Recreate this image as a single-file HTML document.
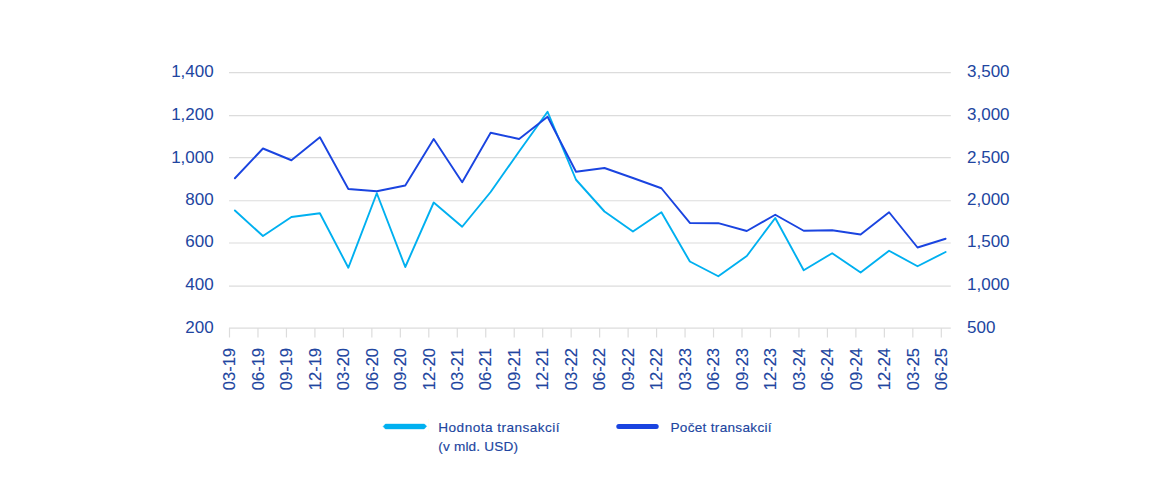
<!DOCTYPE html>
<html><head><meta charset="utf-8"><title>Chart</title>
<style>
html,body{margin:0;padding:0;background:#fff;}
body{width:1176px;height:484px;overflow:hidden;font-family:"Liberation Sans",sans-serif;}
svg{display:block}
text{font-family:"Liberation Sans",sans-serif;fill:#2145a0;}
.yl{font-size:17px}
.xl{font-size:16.5px;stroke:#2145a0;stroke-width:0.12px}
.lg{font-size:13.6px;stroke:#2145a0;stroke-width:0.15px}
</style></head><body>
<svg width="1176" height="484" viewBox="0 0 1176 484">
<rect width="1176" height="484" fill="#fff"/>
<g stroke="#dcdcdc" stroke-width="1.2" fill="none">
<line x1="229" y1="72.55" x2="950.8" y2="72.55"/>
<line x1="229" y1="115.55" x2="950.8" y2="115.55"/>
<line x1="229" y1="157.60" x2="950.8" y2="157.60"/>
<line x1="229" y1="200.75" x2="950.8" y2="200.75"/>
<line x1="229" y1="243.00" x2="950.8" y2="243.00"/>
<line x1="229" y1="286.05" x2="950.8" y2="286.05"/>
<line x1="229" y1="328.10" x2="950.8" y2="328.10"/>
<line x1="229.50" y1="328.10" x2="229.50" y2="337.5"/>
<line x1="257.97" y1="328.10" x2="257.97" y2="337.5"/>
<line x1="286.44" y1="328.10" x2="286.44" y2="337.5"/>
<line x1="314.92" y1="328.10" x2="314.92" y2="337.5"/>
<line x1="343.39" y1="328.10" x2="343.39" y2="337.5"/>
<line x1="371.86" y1="328.10" x2="371.86" y2="337.5"/>
<line x1="400.33" y1="328.10" x2="400.33" y2="337.5"/>
<line x1="428.80" y1="328.10" x2="428.80" y2="337.5"/>
<line x1="457.28" y1="328.10" x2="457.28" y2="337.5"/>
<line x1="485.75" y1="328.10" x2="485.75" y2="337.5"/>
<line x1="514.22" y1="328.10" x2="514.22" y2="337.5"/>
<line x1="542.69" y1="328.10" x2="542.69" y2="337.5"/>
<line x1="571.16" y1="328.10" x2="571.16" y2="337.5"/>
<line x1="599.64" y1="328.10" x2="599.64" y2="337.5"/>
<line x1="628.11" y1="328.10" x2="628.11" y2="337.5"/>
<line x1="656.58" y1="328.10" x2="656.58" y2="337.5"/>
<line x1="685.05" y1="328.10" x2="685.05" y2="337.5"/>
<line x1="713.52" y1="328.10" x2="713.52" y2="337.5"/>
<line x1="742.00" y1="328.10" x2="742.00" y2="337.5"/>
<line x1="770.47" y1="328.10" x2="770.47" y2="337.5"/>
<line x1="798.94" y1="328.10" x2="798.94" y2="337.5"/>
<line x1="827.41" y1="328.10" x2="827.41" y2="337.5"/>
<line x1="855.88" y1="328.10" x2="855.88" y2="337.5"/>
<line x1="884.36" y1="328.10" x2="884.36" y2="337.5"/>
<line x1="912.83" y1="328.10" x2="912.83" y2="337.5"/>
<line x1="941.30" y1="328.10" x2="941.30" y2="337.5"/>
</g>
<g class="yl" text-anchor="end">
<text x="213.7" y="76.85">1,400</text>
<text x="213.7" y="119.55">1,200</text>
<text x="213.7" y="162.50">1,000</text>
<text x="213.7" y="204.95">800</text>
<text x="213.7" y="247.20">600</text>
<text x="213.7" y="290.35">400</text>
<text x="213.7" y="333.05">200</text>
</g><g class="yl" text-anchor="start">
<text x="967" y="76.85">3,500</text>
<text x="967" y="119.55">3,000</text>
<text x="967" y="162.50">2,500</text>
<text x="967" y="204.95">2,000</text>
<text x="967" y="247.20">1,500</text>
<text x="967" y="290.35">1,000</text>
<text x="967" y="333.05">500</text>
</g><g class="xl" text-anchor="end">
<text transform="translate(235.20,348) rotate(-90)">03-19</text>
<text transform="translate(263.67,348) rotate(-90)">06-19</text>
<text transform="translate(292.14,348) rotate(-90)">09-19</text>
<text transform="translate(320.62,348) rotate(-90)">12-19</text>
<text transform="translate(349.09,348) rotate(-90)">03-20</text>
<text transform="translate(377.56,348) rotate(-90)">06-20</text>
<text transform="translate(406.03,348) rotate(-90)">09-20</text>
<text transform="translate(434.50,348) rotate(-90)">12-20</text>
<text transform="translate(462.98,348) rotate(-90)">03-21</text>
<text transform="translate(491.45,348) rotate(-90)">06-21</text>
<text transform="translate(519.92,348) rotate(-90)">09-21</text>
<text transform="translate(548.39,348) rotate(-90)">12-21</text>
<text transform="translate(576.86,348) rotate(-90)">03-22</text>
<text transform="translate(605.34,348) rotate(-90)">06-22</text>
<text transform="translate(633.81,348) rotate(-90)">09-22</text>
<text transform="translate(662.28,348) rotate(-90)">12-22</text>
<text transform="translate(690.75,348) rotate(-90)">03-23</text>
<text transform="translate(719.22,348) rotate(-90)">06-23</text>
<text transform="translate(747.70,348) rotate(-90)">09-23</text>
<text transform="translate(776.17,348) rotate(-90)">12-23</text>
<text transform="translate(804.64,348) rotate(-90)">03-24</text>
<text transform="translate(833.11,348) rotate(-90)">06-24</text>
<text transform="translate(861.58,348) rotate(-90)">09-24</text>
<text transform="translate(890.06,348) rotate(-90)">12-24</text>
<text transform="translate(918.53,348) rotate(-90)">03-25</text>
<text transform="translate(947.00,348) rotate(-90)">06-25</text>
</g>
<polyline points="234.90,210.50 262.96,236.00 291.42,217.00 319.88,213.25 348.34,267.75 376.80,193.25 405.26,267.00 433.72,202.50 462.18,226.75 490.64,192.00 519.10,151.50 547.56,111.75 576.02,179.75 604.48,211.50 632.94,231.50 661.40,212.25 689.86,261.50 718.32,276.25 746.78,256.00 775.24,218.00 803.70,270.25 832.16,253.25 860.62,272.50 889.08,250.75 917.54,266.25 945.60,252.00" fill="none" stroke="#00b0f0" stroke-width="1.9" stroke-linejoin="round" stroke-linecap="round"/>
<polyline points="234.90,178.25 262.96,148.50 291.42,160.25 319.88,137.25 348.34,189.00 376.80,191.25 405.26,185.50 433.72,139.00 462.18,182.25 490.64,132.75 519.10,139.00 547.56,116.75 576.02,171.75 604.48,168.00 632.94,178.00 661.40,188.25 689.86,222.95 718.32,223.20 746.78,231.00 775.24,214.75 803.70,230.75 832.16,230.25 860.62,234.50 889.08,212.25 917.54,247.50 945.60,238.75" fill="none" stroke="#1a44e0" stroke-width="1.9" stroke-linejoin="round" stroke-linecap="round"/>
<polygon points="383.1,426.5 385.4,424 424.4,424 426.7,426.3 424.2,429 385.4,429" fill="#00b0f0" stroke="#00b0f0" stroke-width="0.4" stroke-linejoin="round"/>
<rect x="428" y="419" width="1" height="13" fill="#fffff3"/>
<line x1="618.8" y1="426.5" x2="656.2" y2="426.5" stroke="#1a44e0" stroke-width="5" stroke-linecap="round"/>
<g class="lg">
<text x="438.3" y="431.7" textLength="121.2" lengthAdjust="spacing">Hodnota transakcií</text>
<text x="438.3" y="451.2" textLength="79.7" lengthAdjust="spacing">(v mld. USD)</text>
<text x="670.4" y="431.7" textLength="101.2" lengthAdjust="spacing">Počet transakcií</text>
</g></svg></body></html>
